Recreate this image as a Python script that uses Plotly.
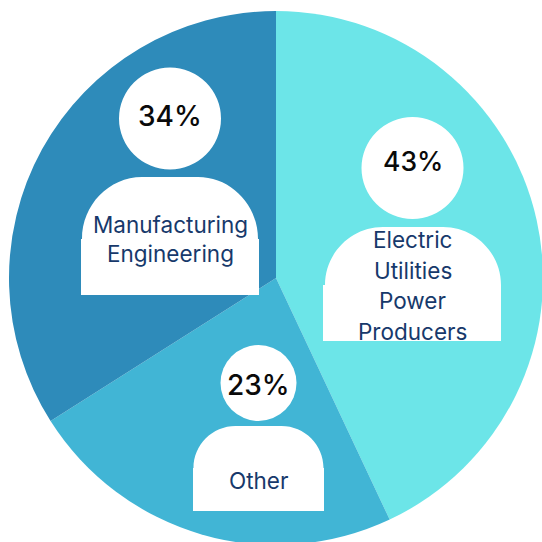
import plotly.graph_objects as go

categories = ["Electric Utilities Power Producers", "Other", "Manufacturing Engineering"]
values = [43, 23, 34]
colors = ["#6CE5E8", "#41B5D5", "#2E8BBA"]
label_lines = [["Electric", "Utilities", "Power", "Producers"], ["Other"], ["Manufacturing", "Engineering"]]

# The pie runs past the right and bottom of the 542 window, so the canvas is larger and the page clips it.
W = 560.0
def X(p): return p / W
def Y(p): return 1 - p / W

glyphs = [
    dict(cx=412.5, cy=168, r=51, l=325, rr=501, t=227, s=285, b=341, rl=323, rrr=501, c=58),
    dict(cx=258.5, cy=383, r=38, l=193.5, rr=323.5, t=426, s=468, b=511, rl=193, rrr=324, c=42),
    dict(cx=170, cy=118.5, r=51, l=82, rr=258, t=177, s=239, b=295, rl=81, rrr=259, c=60),
]
pct_y = [161, 385, 116]
pct_size = [26.5, 28, 28]
text_rows = [[239, 270, 300, 331], [480], [224, 254]]

fig = go.Figure(go.Pie(
    labels=categories, values=values, sort=False, direction="clockwise", rotation=0,
    marker=dict(colors=colors, line=dict(width=0)), textinfo="none", hoverinfo="label+percent",
    domain=dict(x=[X(9), X(543)], y=[Y(545), Y(11)]), showlegend=False,
))

shapes, annotations = [], []
for g, v, py, ps, lines, rows in zip(glyphs, values, pct_y, pct_size, label_lines, text_rows):
    shapes.append(dict(type="circle", xref="paper", yref="paper", layer="above",
                       x0=X(g["cx"] - g["r"]), x1=X(g["cx"] + g["r"]),
                       y0=Y(g["cy"] + g["r"]), y1=Y(g["cy"] - g["r"]),
                       fillcolor="white", line=dict(width=0)))
    l, rr, t, s, c = g["l"], g["rr"], g["t"], g["s"], g["c"]
    kx, ky = 0.55 * c, 0.55 * (s - t)
    path = (f"M {X(g['rl'])} {Y(g['b'])} L {X(g['rl'])} {Y(s)} L {X(l)} {Y(s)} "
            f"C {X(l)} {Y(s - ky)} {X(l + c - kx)} {Y(t)} {X(l + c)} {Y(t)} "
            f"L {X(rr - c)} {Y(t)} "
            f"C {X(rr - c + kx)} {Y(t)} {X(rr)} {Y(s - ky)} {X(rr)} {Y(s)} "
            f"L {X(g['rrr'])} {Y(s)} L {X(g['rrr'])} {Y(g['b'])} Z")
    shapes.append(dict(type="path", path=path, xref="paper", yref="paper", layer="above",
                       fillcolor="white", line=dict(width=0)))
    annotations.append(dict(text=f"{v}%", x=X(g["cx"]), y=Y(py), xref="paper", yref="paper",
                            showarrow=False, xanchor="center", yanchor="middle",
                            font=dict(family="Inter", size=ps, color="#0A0A0A", weight=500)))
    for line, ry in zip(lines, rows):
        annotations.append(dict(text=line, x=X(g["cx"]), y=Y(ry),
                                xref="paper", yref="paper", showarrow=False,
                                xanchor="center", yanchor="middle",
                                font=dict(family="Inter", size=22.5, color="#17396B", weight=400)))

fig.update_layout(width=int(W), height=int(W), margin=dict(l=0, r=0, t=0, b=0),
                  paper_bgcolor="white", shapes=shapes, annotations=annotations)
fig.write_html("out.html",
               post_script="document.body.style.margin='0';document.documentElement.style.overflow='hidden';document.body.style.overflow='hidden';",
               config=dict(displayModeBar=False))
